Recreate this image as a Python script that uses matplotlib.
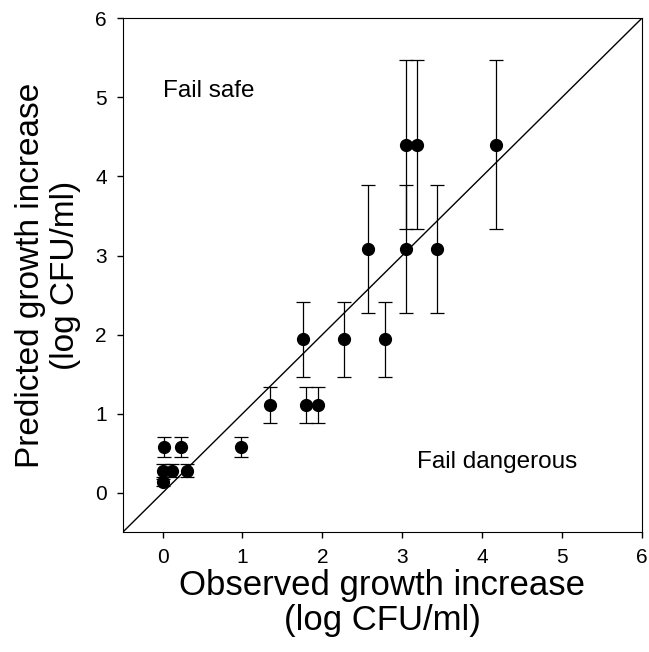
import numpy as np
import matplotlib.pyplot as plt

plt.rcParams['font.family'] = ['Liberation Sans', 'DejaVu Sans']

# observed vs predicted growth increase (log CFU/ml)
observed = [0.00, 0.00, 0.12, 0.30, 0.02, 0.23, 0.98,
            1.34, 1.80, 1.95, 1.76, 2.27, 2.79,
            2.57, 3.05, 3.43, 3.05, 3.19, 4.17]
predicted = [0.13, 0.28, 0.28, 0.28, 0.58, 0.58, 0.58,
             1.11, 1.11, 1.11, 1.94, 1.94, 1.94,
             3.08, 3.08, 3.08, 4.40, 4.40, 4.40]
pred_err = [0.05, 0.08, 0.08, 0.08, 0.13, 0.13, 0.13,
            0.23, 0.23, 0.23, 0.47, 0.47, 0.47,
            0.81, 0.81, 0.81, 1.07, 1.07, 1.07]

fig = plt.figure(figsize=(6.49, 6.52), dpi=100)
ax = fig.add_axes([0.189, 0.1836, 0.8, 0.7884])

ax.plot([-0.5, 6], [-0.5, 6], color='black', lw=1.0)
ax.errorbar(observed, predicted, yerr=pred_err, fmt='o', color='black',
            ms=8.5, capsize=4.7, elinewidth=0.9, capthick=0.9)

ax.set_xlim(-0.5, 6)
ax.set_ylim(-0.5, 6)
ax.set_xticks(range(0, 7))
ax.set_yticks(range(0, 7))
ax.tick_params(direction='out', length=4.5, width=1, labelsize=15, pad=7)

ax.text(0.0, 5.0, 'Fail safe', fontsize=17.5)
ax.text(3.19, 0.31, 'Fail dangerous', fontsize=17.5)

ax.set_xlabel('Observed growth increase\n(log CFU/ml)', fontsize=25, labelpad=1,
              linespacing=1.1)
ax.set_ylabel('Predicted growth increase\n(log CFU/ml)', fontsize=24, labelpad=10,
              linespacing=1.15)

fig.savefig('out.png', dpi=100)
